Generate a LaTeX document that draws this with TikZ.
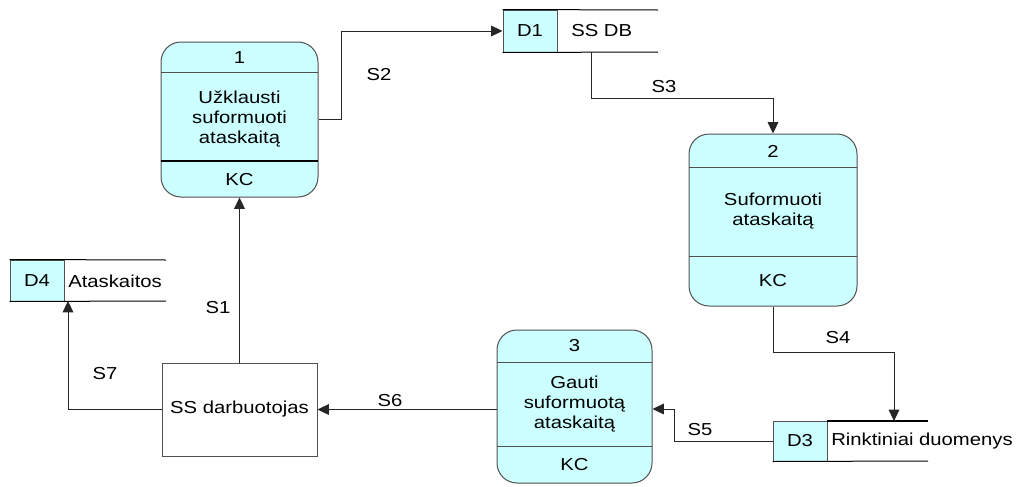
\documentclass[tikz,border=0pt]{standalone}
\usepackage{fontspec}
\setmainfont{Liberation Sans}[FakeStretch=1.17]
\usetikzlibrary{arrows.meta,fit}
\definecolor{procfill}{HTML}{CCFFFF}
\definecolor{edge}{HTML}{505050}
\tikzset{
  proc/.style={draw=edge, fill=procfill, rounded corners=15pt, inner sep=0pt, line width=0.75pt},
  entity/.style={draw=edge, fill=white, inner sep=0pt, line width=0.75pt, align=center},
  storecell/.style={draw=edge, fill=procfill, inner sep=0pt, line width=0.75pt},
  divider/.style={draw=edge, line width=0.75pt},
  heavy/.style={draw=black, line width=1.5pt},
  storeline/.style={draw=black, line width=0.75pt},
  flow/.style={draw=black!85, line width=0.75pt, -{Triangle[length=8.5pt,width=8pt]}},
  lbl/.style={inner sep=0pt, font=\fontsize{13pt}{15pt}\selectfont},
  txt/.style={inner sep=0pt, align=center, font=\fontsize{13pt}{15pt}\selectfont}
}
\begin{document}
\begin{tikzpicture}[x=0.75pt,y=-0.75pt]
\useasboundingbox (0,0) rectangle (1018,486);

% --- process 1 ---
\node[proc, fit={(161,42) (318,197)}] (p1) {};
\draw[divider] (161,72) -- (318,72);
\draw[heavy] (161,161) -- (318,161);
\node[txt] (p1n) at (239.5,58) {1};
\node[txt] (p1t) at (239.5,119) {Užklausti\\suformuoti\\ataskaitą};
\node[txt] (p1k) at (239.5,180) {KC};

% --- process 2 ---
\node[proc, fit={(689,134) (857,306)}] (p2) {};
\draw[divider] (689,167) -- (857,167);
\draw[divider] (689,256) -- (857,256);
\node[txt] (p2n) at (773,151) {2};
\node[txt] (p2t) at (773,211) {Suformuoti\\ataskaitą};
\node[txt] (p2k) at (773,281) {KC};

% --- process 3 ---
\node[proc, fit={(497,330) (652,483)}] (p3) {};
\draw[divider] (497,362) -- (652,362);
\draw[divider] (497,446) -- (652,446);
\node[txt] (p3n) at (574.5,346) {3};
\node[txt] (p3t) at (574.5,404) {Gauti\\suformuotą\\ataskaitą};
\node[txt] (p3k) at (574.5,465) {KC};

% --- external entity ---
\node[entity, fit={(162,363) (317,456)}] (ss) {};
\node[txt] (sst) at (ss.center) {SS darbuotojas};

% --- data stores ---
\node[storecell, fit={(503,10) (557,52)}] (d1) {};
\draw[storeline] (d1.north west) -- (658,10);
\draw[storeline] (d1.south west) -- (658,52);
\node[txt] (d1i) at (d1.center) {D1};
\node[txt, anchor=west] (d1n) at (571,31) {SS DB};

\node[storecell, fit={(10,260) (64,301)}] (d4) {};
\draw[storeline] (d4.north west) -- (166,260);
\draw[storeline] (d4.south west) -- (166,301);
\node[txt] (d4i) at (d4.center) {D4};
\node[txt, anchor=west] (d4n) at (68,281) {Ataskaitos};

\node[storecell, fit={(773,421) (827,461)}] (d3) {};
\draw[heavy] (827,421) -- (928,421);
\draw[storeline] (d3.south west) -- (928,461);
\node[txt] (d3i) at (d3.center) {D3};
\node[txt, anchor=west] (d3n) at (831,441) {Rinktiniai duomenys};

% --- connection points on store edges ---
\coordinate (s3a) at (591,52);
\coordinate (s4e) at (894,421);
\coordinate (s7e) at (68,301);

% --- data flows ---
\draw[flow] (ss.north) -- (p1.south);
\draw[flow] (p1.east) -- ++(23,0) |- (d1.west);
\draw[flow] (s3a) -- (591,98) -| (p2.north);
\draw[flow] (p2.south) -- (773,352) -| (s4e);
\draw[flow] (d3.west) -| (674,409) -- (p3.east |- 0,409);
\draw[flow] (p3.west |- ss.center) -- (ss.east);
\draw[flow] (ss.west) -| (s7e);

% --- flow labels ---
\node[lbl] (l1) at (218,308) {S1};
\node[lbl] (l2) at (379,75) {S2};
\node[lbl] (l3) at (664,87) {S3};
\node[lbl] (l4) at (838,338) {S4};
\node[lbl] (l5) at (700,430) {S5};
\node[lbl] (l6) at (390,401) {S6};
\node[lbl] (l7) at (105,374) {S7};
\end{tikzpicture}
\end{document}
